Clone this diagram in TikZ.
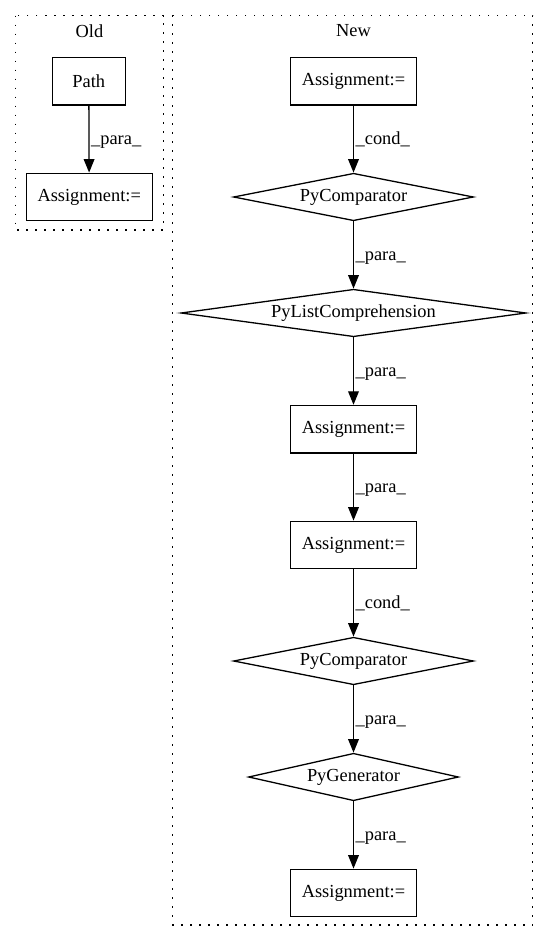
\documentclass[tikz,border=0pt]{standalone}
\usepackage{fontspec}
\setmainfont{Liberation Serif}
\usetikzlibrary{shapes.geometric,arrows.meta}
\begin{document}
\begin{tikzpicture}[x=1pt,y=-1pt,
  every node/.style={font=\fontsize{18.4}{22}\selectfont},
  box/.style={draw,line width=1.3pt,rectangle,inner sep=0,minimum height=47.5pt},
  dia/.style={draw,line width=1.3pt,diamond,inner sep=0,minimum height=47.5pt},
  cluster/.style={draw,line width=1.3pt,dash pattern=on 1.5pt off 7.5pt},
  edge/.style={line width=1.3pt,-{Triangle[length=13.5pt,width=10.7pt]}},
  elabel/.style={anchor=base west,inner sep=0,xshift=1.5pt,yshift=-5.7pt}]
\useasboundingbox (0,0) rectangle (549,944);
\draw[cluster] (15.7,15.7) rectangle (163.3,230);
\draw[cluster] (172.7,15.3) rectangle (532.7,925);
\node (oldlbl) at (89.5,31) {Old};
\node (newlbl) at (353.5,31) {New};
% Old
\node[box,minimum width=73pt] (path) at (88.8,81.3) {Path};
\node[box,minimum width=126pt] (oa) at (89.2,197) {Assignment:=};
\draw[edge] (path) -- node[elabel]{\_para\_} (oa);
% New
\node[box,minimum width=125.6pt] (a1) at (353.5,81.3) {Assignment:=};
\node[dia,minimum width=240pt,aspect=5.06] (pc1) at (353.5,197) {PyComparator};
\node[dia,minimum width=345pt,aspect=7.27] (plc) at (353.5,313) {PyListComprehension};
\node[box,minimum width=125.6pt] (a2) at (353.5,429.2) {Assignment:=};
\node[box,minimum width=125.6pt] (a3) at (353.5,545) {Assignment:=};
\node[dia,minimum width=240pt,aspect=5.06] (pc2) at (353.5,661) {PyComparator};
\node[dia,minimum width=210pt,aspect=4.43] (pg) at (353.5,777) {PyGenerator};
\node[box,minimum width=125.6pt] (a4) at (353.5,893) {Assignment:=};
\draw[edge] (a1) -- node[elabel]{\_cond\_} (pc1);
\draw[edge] (pc1) -- node[elabel]{\_para\_} (plc);
\draw[edge] (plc) -- node[elabel]{\_para\_} (a2);
\draw[edge] (a2) -- node[elabel]{\_para\_} (a3);
\draw[edge] (a3) -- node[elabel]{\_cond\_} (pc2);
\draw[edge] (pc2) -- node[elabel]{\_para\_} (pg);
\draw[edge] (pg) -- node[elabel]{\_para\_} (a4);
\end{tikzpicture}
\end{document}
